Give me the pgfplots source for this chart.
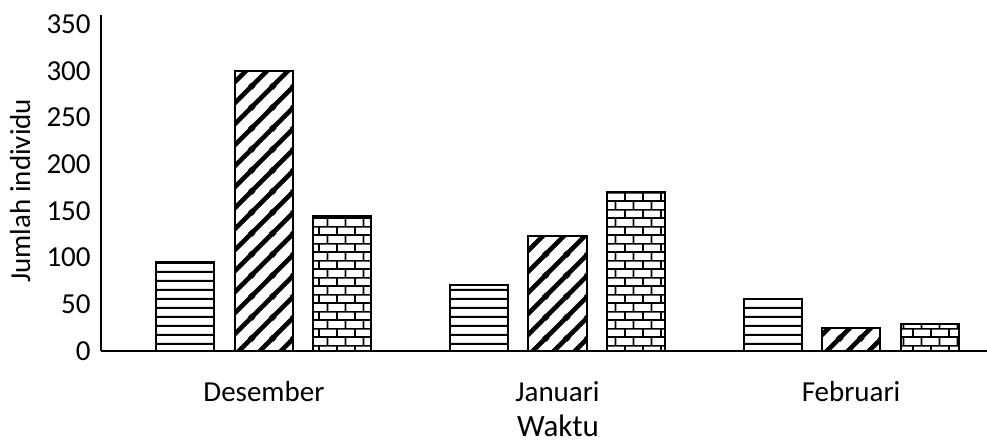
\documentclass[border=0pt]{standalone}
\usepackage{fontspec}
\setmainfont{Carlito}
\usepackage{pgfplots}
\pgfplotsset{compat=1.18}
\usetikzlibrary{patterns.meta}

% fill patterns for the three series
\tikzdeclarepattern{
  name=hstripes,
  type=uncolored,
  bounding box={(0pt,0pt) and (4pt,4.3pt)},
  tile size={(4pt,4.3pt)},
  code={\draw[line width=1pt] (-1pt,2.15pt) -- (5pt,2.15pt);}
}
\tikzdeclarepattern{
  name=diagstripes,
  type=uncolored,
  bounding box={(0pt,0pt) and (10.5pt,10.5pt)},
  tile size={(10.5pt,10.5pt)},
  code={
    \draw[line width=2.4pt] (-1pt,-1pt) -- (11.5pt,11.5pt);
    \draw[line width=2.4pt] (-1pt,9.5pt) -- (1pt,11.5pt);
    \draw[line width=2.4pt] (9.5pt,-1pt) -- (11.5pt,1pt);
  }
}
\tikzdeclarepattern{
  name=brickwall,
  type=uncolored,
  bounding box={(0pt,0pt) and (8.75pt,8.5pt)},
  tile size={(8.75pt,8.5pt)},
  code={
    \draw[line width=0.9pt] (-1pt,2.125pt) -- (9.75pt,2.125pt);
    \draw[line width=0.9pt] (-1pt,6.375pt) -- (9.75pt,6.375pt);
    \draw[line width=0.9pt] (2pt,2.125pt) -- (2pt,6.375pt);
    \draw[line width=0.9pt] (6.375pt,6.375pt) -- (6.375pt,9pt);
    \draw[line width=0.9pt] (6.375pt,-0.5pt) -- (6.375pt,2.125pt);
  }
}

\pgfplotstableread{
x  lines  diag  bricks
0  95     300   145
1  71     123   170
2  56     25    29
}\counts

\begin{document}
\begin{tikzpicture}
\begin{axis}[
  name=ax,
  scale only axis,
  width=443pt, height=168pt,
  xmin=-0.555, xmax=2.463,
  ymin=0, ymax=360,
  axis x line=bottom, axis y line=left,
  axis line style={-, line width=0.6pt, black},
  xtick={0,1,2},
  xticklabels={Desember,Januari,Februari},
  ytick={0,50,...,350},
  major tick length=0pt,
  tick label style={font=\fontsize{14.5}{17}\selectfont},
  /pgf/number format/assume math mode=true,
  yticklabel style={anchor=east, inner sep=0pt, xshift=-5pt},
  xticklabel style={anchor=base, inner sep=0pt, yshift=-25.3pt},
  xlabel={Waktu},
  xlabel style={font=\fontsize{15.5}{18}\selectfont, at={(rel axis cs:0.5158,0)},
    anchor=base, inner sep=0pt, yshift=-43pt},
  ylabel={Jumlah individu},
  ylabel style={font=\fontsize{14.5}{17}\selectfont, at={(rel axis cs:-0.080,0.4768)},
    anchor=base, inner sep=0pt},
  ybar,
  bar width=0.1976,
  clip=false,
]
\addplot[bar shift=-0.2675, draw=black, line width=1pt,
  pattern=hstripes, pattern color=black] table[x=x, y=lines] {\counts};
\addplot[bar shift=0, draw=black, line width=1pt,
  pattern=diagstripes, pattern color=black] table[x=x, y=diag] {\counts};
\addplot[bar shift=0.2675, draw=black, line width=1pt,
  pattern=brickwall, pattern color=black] table[x=x, y=bricks] {\counts};
\end{axis}
\pgfresetboundingbox
\path ([xshift=-50.5pt,yshift=-46pt]ax.south west) rectangle ([xshift=443pt,yshift=175.5pt]ax.south west);
\end{tikzpicture}
\end{document}
